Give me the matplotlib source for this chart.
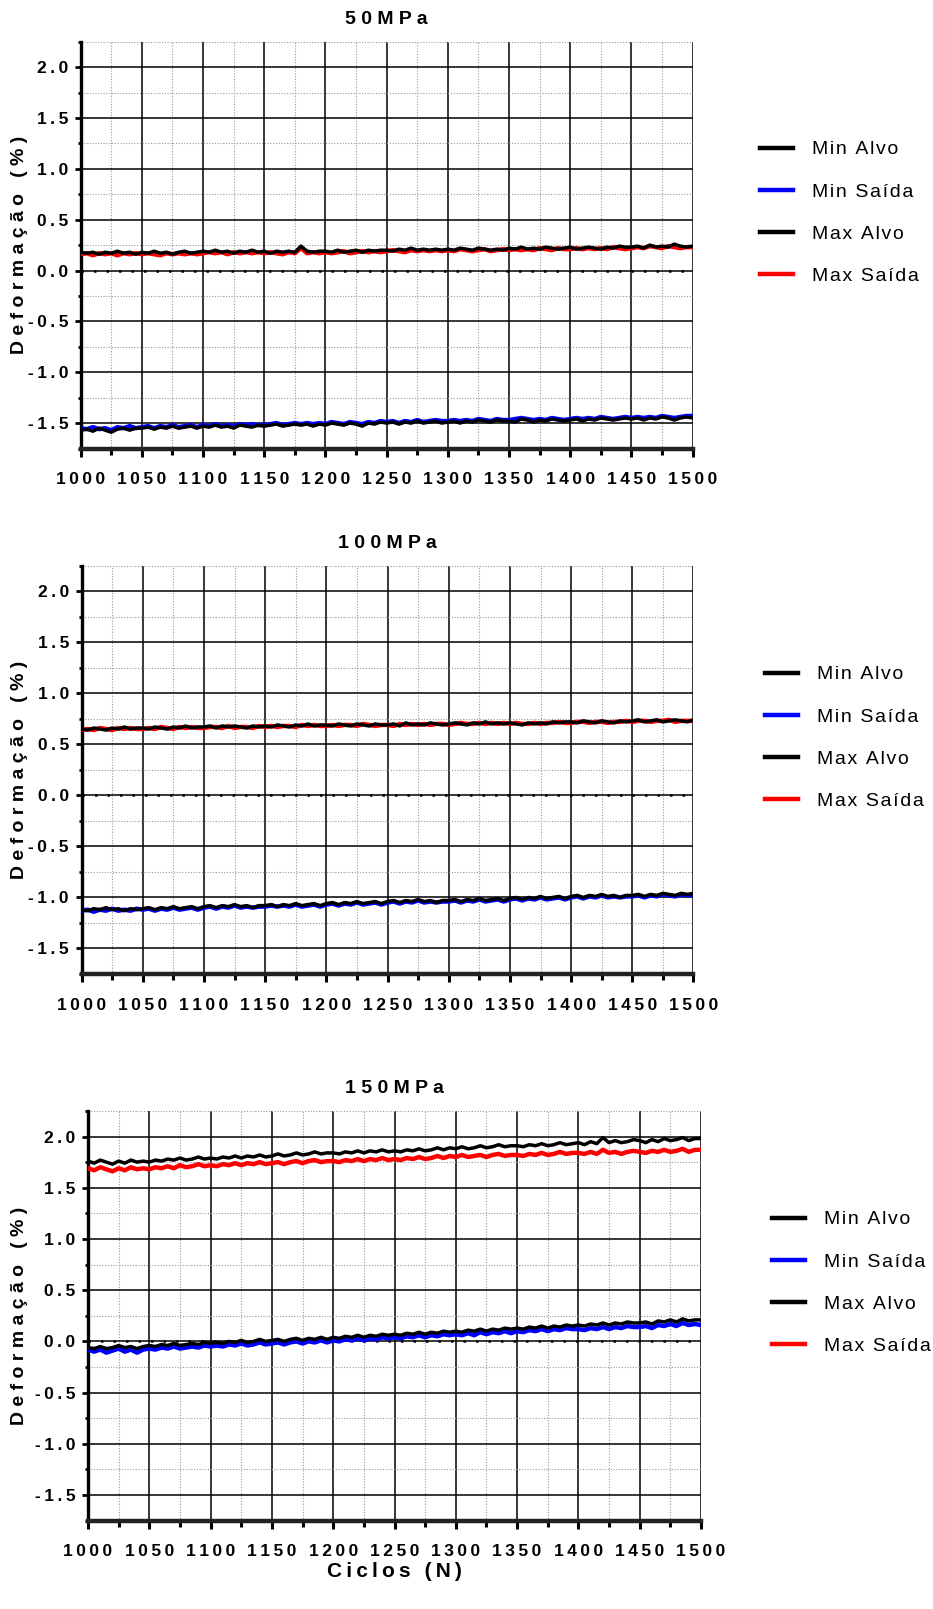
import numpy as np
import matplotlib
matplotlib.use('Agg')
import matplotlib.pyplot as plt
from matplotlib.ticker import MultipleLocator, FuncFormatter

plt.rcParams['font.family'] = ['Liberation Sans', 'DejaVu Sans']

# cycles sampled every 5 from 1000 to 1500
ciclos = np.arange(1000, 1501, 5)

titulos = ['50MPa', '100MPa', '150MPa']
series = ['Min Alvo', 'Min Saída', 'Max Alvo', 'Max Saída']

p1_max_alvo = [
	0.18, 0.17, 0.18, 0.16, 0.18, 0.17, 0.19, 0.17, 0.18, 0.16,
	0.18, 0.17, 0.19, 0.17, 0.18, 0.16, 0.18, 0.19, 0.17, 0.18,
	0.19, 0.18, 0.20, 0.18, 0.19, 0.17, 0.19, 0.18, 0.20, 0.18,
	0.19, 0.17, 0.19, 0.18, 0.19, 0.18, 0.24, 0.19, 0.18, 0.19,
	0.19, 0.18, 0.20, 0.18, 0.19, 0.20, 0.18, 0.20, 0.19, 0.20,
	0.20, 0.19, 0.21, 0.20, 0.22, 0.20, 0.21, 0.20, 0.21, 0.20,
	0.21, 0.20, 0.22, 0.21, 0.20, 0.22, 0.21, 0.20, 0.21, 0.20,
	0.22, 0.21, 0.23, 0.21, 0.22, 0.21, 0.23, 0.22, 0.21, 0.22,
	0.23, 0.21, 0.22, 0.23, 0.22, 0.21, 0.23, 0.22, 0.24, 0.23,
	0.23, 0.24, 0.22, 0.25, 0.23, 0.24, 0.23, 0.26, 0.24, 0.23,
	0.24]
p1_max_saida = [
	0.16, 0.17, 0.15, 0.17, 0.16, 0.17, 0.15, 0.17, 0.16, 0.17,
	0.16, 0.17, 0.16, 0.15, 0.17, 0.16, 0.17, 0.16, 0.17, 0.16,
	0.17, 0.18, 0.17, 0.18, 0.16, 0.18, 0.17, 0.18, 0.17, 0.18,
	0.17, 0.18, 0.17, 0.16, 0.18, 0.17, 0.22, 0.17, 0.18, 0.17,
	0.18, 0.17, 0.18, 0.19, 0.17, 0.18, 0.19, 0.18, 0.19, 0.18,
	0.19, 0.20, 0.19, 0.18, 0.20, 0.19, 0.20, 0.19, 0.20, 0.19,
	0.20, 0.19, 0.21, 0.20, 0.19, 0.20, 0.21, 0.19, 0.20, 0.21,
	0.20, 0.21, 0.20, 0.21, 0.20, 0.22, 0.21, 0.20, 0.22, 0.21,
	0.21, 0.22, 0.21, 0.22, 0.21, 0.22, 0.21, 0.23, 0.22, 0.21,
	0.22, 0.23, 0.22, 0.24, 0.23, 0.22, 0.24, 0.23, 0.22, 0.23,
	0.23]
p1_min_alvo = [
	-1.57, -1.56, -1.58, -1.55, -1.57, -1.59, -1.56, -1.55, -1.57, -1.55,
	-1.55, -1.54, -1.56, -1.54, -1.55, -1.53, -1.55, -1.54, -1.53, -1.55,
	-1.53, -1.54, -1.52, -1.54, -1.53, -1.55, -1.52, -1.53, -1.54, -1.52,
	-1.53, -1.52, -1.51, -1.53, -1.52, -1.51, -1.52, -1.51, -1.53, -1.51,
	-1.52, -1.50, -1.51, -1.52, -1.50, -1.51, -1.53, -1.50, -1.51, -1.49,
	-1.50, -1.49, -1.51, -1.49, -1.50, -1.48, -1.50, -1.49, -1.48, -1.50,
	-1.49, -1.48, -1.50, -1.48, -1.49, -1.47, -1.48, -1.49, -1.47, -1.48,
	-1.48, -1.49, -1.46, -1.47, -1.49, -1.47, -1.48, -1.46, -1.47, -1.48,
	-1.47, -1.46, -1.48, -1.46, -1.47, -1.45, -1.46, -1.47, -1.46, -1.45,
	-1.46, -1.45, -1.47, -1.45, -1.46, -1.44, -1.45, -1.47, -1.45, -1.44,
	-1.45]
p1_min_saida = [
	-1.55, -1.56, -1.54, -1.56, -1.55, -1.57, -1.54, -1.55, -1.53, -1.55,
	-1.54, -1.53, -1.55, -1.53, -1.54, -1.52, -1.54, -1.53, -1.52, -1.54,
	-1.52, -1.53, -1.51, -1.53, -1.52, -1.53, -1.51, -1.52, -1.51, -1.52,
	-1.52, -1.51, -1.50, -1.52, -1.51, -1.50, -1.51, -1.50, -1.51, -1.50,
	-1.51, -1.49, -1.50, -1.51, -1.49, -1.50, -1.51, -1.49, -1.50, -1.48,
	-1.49, -1.48, -1.50, -1.48, -1.49, -1.47, -1.49, -1.48, -1.47, -1.48,
	-1.48, -1.47, -1.48, -1.47, -1.48, -1.46, -1.47, -1.48, -1.46, -1.47,
	-1.47, -1.46, -1.45, -1.46, -1.47, -1.46, -1.47, -1.45, -1.46, -1.47,
	-1.46, -1.45, -1.46, -1.45, -1.46, -1.44, -1.45, -1.46, -1.45, -1.44,
	-1.45, -1.44, -1.45, -1.44, -1.45, -1.43, -1.44, -1.45, -1.44, -1.43,
	-1.43]

p2_max_alvo = [
	0.65, 0.64, 0.66, 0.65, 0.64, 0.66, 0.65, 0.67, 0.65, 0.66,
	0.66, 0.65, 0.67, 0.66, 0.65, 0.67, 0.66, 0.68, 0.66, 0.67,
	0.67, 0.68, 0.66, 0.68, 0.67, 0.68, 0.67, 0.66, 0.68, 0.67,
	0.68, 0.67, 0.69, 0.68, 0.67, 0.69, 0.68, 0.70, 0.68, 0.69,
	0.69, 0.68, 0.70, 0.69, 0.68, 0.70, 0.69, 0.68, 0.70, 0.69,
	0.69, 0.70, 0.68, 0.71, 0.69, 0.70, 0.69, 0.71, 0.70, 0.69,
	0.70, 0.71, 0.70, 0.69, 0.71, 0.70, 0.72, 0.70, 0.71, 0.70,
	0.71, 0.70, 0.69, 0.71, 0.70, 0.71, 0.70, 0.72, 0.71, 0.72,
	0.72, 0.71, 0.73, 0.72, 0.71, 0.73, 0.72, 0.71, 0.73, 0.72,
	0.73, 0.74, 0.72, 0.73, 0.74, 0.72, 0.73, 0.74, 0.73, 0.72,
	0.74]
p2_max_saida = [
	0.64, 0.65, 0.64, 0.66, 0.65, 0.64, 0.66, 0.65, 0.66, 0.65,
	0.65, 0.66, 0.65, 0.67, 0.66, 0.65, 0.67, 0.66, 0.67, 0.66,
	0.66, 0.67, 0.67, 0.66, 0.68, 0.66, 0.67, 0.67, 0.66, 0.68,
	0.67, 0.68, 0.67, 0.68, 0.68, 0.67, 0.69, 0.68, 0.69, 0.68,
	0.68, 0.69, 0.68, 0.69, 0.69, 0.68, 0.70, 0.69, 0.68, 0.69,
	0.69, 0.68, 0.70, 0.69, 0.70, 0.69, 0.70, 0.69, 0.70, 0.70,
	0.69, 0.70, 0.71, 0.70, 0.70, 0.71, 0.70, 0.71, 0.70, 0.71,
	0.70, 0.71, 0.70, 0.70, 0.71, 0.70, 0.71, 0.71, 0.72, 0.71,
	0.71, 0.72, 0.72, 0.71, 0.72, 0.72, 0.71, 0.72, 0.72, 0.73,
	0.72, 0.73, 0.73, 0.72, 0.73, 0.73, 0.74, 0.72, 0.73, 0.73,
	0.73]
p2_min_alvo = [
	-1.12, -1.13, -1.11, -1.12, -1.10, -1.12, -1.11, -1.13, -1.11, -1.12,
	-1.11, -1.10, -1.12, -1.10, -1.11, -1.09, -1.11, -1.10, -1.09, -1.11,
	-1.09, -1.08, -1.10, -1.08, -1.09, -1.07, -1.09, -1.08, -1.10, -1.08,
	-1.08, -1.07, -1.09, -1.07, -1.08, -1.06, -1.08, -1.07, -1.06, -1.08,
	-1.06, -1.05, -1.07, -1.05, -1.06, -1.04, -1.06, -1.05, -1.04, -1.06,
	-1.04, -1.03, -1.05, -1.03, -1.04, -1.02, -1.04, -1.03, -1.05, -1.03,
	-1.03, -1.02, -1.04, -1.02, -1.03, -1.01, -1.03, -1.02, -1.01, -1.03,
	-1.01, -1.00, -1.02, -1.00, -1.01, -0.99, -1.01, -1.00, -0.99, -1.01,
	-0.99, -0.98, -1.00, -0.98, -0.99, -0.97, -0.99, -0.98, -1.00, -0.98,
	-0.98, -0.97, -0.99, -0.97, -0.98, -0.96, -0.97, -0.98, -0.96, -0.97,
	-0.96]
p2_min_saida = [
	-1.13, -1.12, -1.14, -1.12, -1.13, -1.11, -1.13, -1.12, -1.13, -1.11,
	-1.12, -1.11, -1.13, -1.11, -1.12, -1.10, -1.12, -1.11, -1.10, -1.12,
	-1.10, -1.09, -1.11, -1.09, -1.10, -1.08, -1.10, -1.09, -1.10, -1.09,
	-1.09, -1.08, -1.09, -1.08, -1.09, -1.07, -1.09, -1.08, -1.07, -1.09,
	-1.07, -1.06, -1.08, -1.06, -1.07, -1.05, -1.07, -1.06, -1.05, -1.07,
	-1.05, -1.04, -1.06, -1.04, -1.05, -1.03, -1.05, -1.04, -1.05, -1.04,
	-1.04, -1.03, -1.05, -1.03, -1.04, -1.02, -1.04, -1.03, -1.02, -1.04,
	-1.02, -1.01, -1.03, -1.01, -1.02, -1.00, -1.02, -1.01, -1.00, -1.02,
	-1.00, -0.99, -1.01, -0.99, -1.00, -0.98, -1.00, -0.99, -1.00, -0.99,
	-0.99, -0.98, -1.00, -0.98, -0.99, -0.97, -0.98, -0.99, -0.97, -0.98,
	-0.97]

p3_max_alvo = [
	1.76, 1.74, 1.77, 1.75, 1.73, 1.76, 1.74, 1.77, 1.75, 1.76,
	1.75, 1.77, 1.76, 1.78, 1.77, 1.79, 1.77, 1.78, 1.80, 1.78,
	1.79, 1.78, 1.80, 1.79, 1.81, 1.79, 1.81, 1.80, 1.82, 1.80,
	1.81, 1.83, 1.81, 1.82, 1.84, 1.82, 1.83, 1.85, 1.83, 1.84,
	1.84, 1.83, 1.85, 1.84, 1.86, 1.84, 1.86, 1.85, 1.87, 1.85,
	1.86, 1.85, 1.87, 1.86, 1.88, 1.86, 1.87, 1.89, 1.87, 1.89,
	1.88, 1.90, 1.88, 1.89, 1.91, 1.89, 1.90, 1.92, 1.90, 1.91,
	1.91, 1.90, 1.92, 1.91, 1.93, 1.91, 1.92, 1.94, 1.92, 1.93,
	1.94, 1.92, 1.95, 1.93, 1.99, 1.94, 1.96, 1.94, 1.95, 1.97,
	1.96, 1.94, 1.97, 1.95, 1.98, 1.96, 1.97, 1.99, 1.96, 1.98,
	1.98]
p3_max_saida = [
	1.69, 1.67, 1.70, 1.68, 1.66, 1.69, 1.67, 1.70, 1.68, 1.69,
	1.68, 1.70, 1.69, 1.71, 1.69, 1.72, 1.70, 1.71, 1.73, 1.71,
	1.72, 1.71, 1.73, 1.72, 1.74, 1.72, 1.74, 1.73, 1.75, 1.73,
	1.74, 1.75, 1.73, 1.75, 1.76, 1.74, 1.76, 1.77, 1.75, 1.76,
	1.76, 1.75, 1.77, 1.76, 1.78, 1.76, 1.78, 1.77, 1.79, 1.77,
	1.78, 1.77, 1.79, 1.78, 1.80, 1.78, 1.79, 1.81, 1.79, 1.81,
	1.80, 1.82, 1.80, 1.81, 1.82, 1.80, 1.82, 1.83, 1.81, 1.82,
	1.82, 1.81, 1.83, 1.82, 1.84, 1.82, 1.83, 1.85, 1.83, 1.84,
	1.84, 1.83, 1.85, 1.83, 1.87, 1.84, 1.85, 1.83, 1.85, 1.86,
	1.85, 1.84, 1.86, 1.85, 1.87, 1.85, 1.86, 1.88, 1.85, 1.87,
	1.87]
p3_min_alvo = [
	-0.06, -0.07, -0.05, -0.07, -0.06, -0.04, -0.06, -0.05, -0.07, -0.05,
	-0.04, -0.05, -0.03, -0.04, -0.02, -0.04, -0.03, -0.02, -0.03, -0.01,
	-0.02, -0.01, -0.02, 0.00, -0.01, 0.01, -0.01, 0.00, 0.02, 0.00,
	0.01, 0.02, 0.00, 0.02, 0.03, 0.01, 0.03, 0.02, 0.04, 0.02,
	0.04, 0.03, 0.05, 0.04, 0.06, 0.04, 0.06, 0.05, 0.07, 0.06,
	0.07, 0.06, 0.08, 0.07, 0.09, 0.07, 0.09, 0.08, 0.10, 0.09,
	0.10, 0.09, 0.11, 0.10, 0.12, 0.10, 0.12, 0.11, 0.13, 0.12,
	0.13, 0.12, 0.14, 0.13, 0.15, 0.13, 0.15, 0.14, 0.16, 0.15,
	0.16, 0.15, 0.17, 0.16, 0.18, 0.16, 0.18, 0.17, 0.19, 0.18,
	0.18, 0.19, 0.17, 0.20, 0.19, 0.21, 0.19, 0.22, 0.20, 0.21,
	0.21]
p3_min_saida = [
	-0.08, -0.10, -0.08, -0.11, -0.09, -0.07, -0.10, -0.08, -0.11, -0.08,
	-0.07, -0.08, -0.06, -0.07, -0.05, -0.07, -0.06, -0.05, -0.06, -0.04,
	-0.05, -0.04, -0.05, -0.03, -0.04, -0.02, -0.04, -0.03, -0.01, -0.03,
	-0.02, -0.01, -0.03, -0.01, 0.00, -0.02, 0.00, -0.01, 0.01, -0.01,
	0.01, 0.00, 0.02, 0.01, 0.03, 0.01, 0.03, 0.02, 0.04, 0.03,
	0.04, 0.03, 0.05, 0.04, 0.06, 0.04, 0.06, 0.05, 0.07, 0.06,
	0.07, 0.06, 0.08, 0.06, 0.09, 0.07, 0.09, 0.08, 0.10, 0.08,
	0.10, 0.09, 0.11, 0.10, 0.12, 0.10, 0.12, 0.11, 0.13, 0.12,
	0.12, 0.11, 0.13, 0.12, 0.14, 0.12, 0.14, 0.13, 0.15, 0.14,
	0.14, 0.15, 0.13, 0.16, 0.15, 0.17, 0.15, 0.18, 0.16, 0.17,
	0.16]

paineis = [
	(p1_min_alvo, p1_min_saida, p1_max_alvo, p1_max_saida),
	(p2_min_alvo, p2_min_saida, p2_max_alvo, p2_max_saida),
	(p3_min_alvo, p3_min_saida, p3_max_alvo, p3_max_saida),
]

W, H = 933, 1609
# axes boxes in pixels: left, top, right, bottom
caixas = [(80.7, 41.7, 692.6, 448.5), (81.5, 565.7, 693.5, 974.0), (88.0, 1110.9, 701.0, 1520.7)]
# legend anchors in pixels: handle start x, centre y
legendas = [(760, 213), (765, 738), (772, 1283)]


def spaced(s, sep='\u2009'):
	return sep.join(s)


fig = plt.figure(figsize=(W / 100, H / 100), dpi=100)

for k, (mn_alvo, mn_saida, mx_alvo, mx_saida) in enumerate(paineis):
	l, t, r, b = caixas[k]
	ax = fig.add_axes([l / W, 1 - b / H, (r - l) / W, (b - t) / H])

	l_mn_s, = ax.plot(ciclos, mn_saida, color='#0000ff', lw=3.2, zorder=3)
	l_mn_a, = ax.plot(ciclos, mn_alvo, color='black', lw=2.5, zorder=4)
	l_mx_s, = ax.plot(ciclos, mx_saida, color='#ff0000', lw=3.2, zorder=3)
	l_mx_a, = ax.plot(ciclos, mx_alvo, color='black', lw=2.5, zorder=4)
	ax.axhline(0, color='black', lw=1.8, ls=(0, (1, 4)), zorder=2)

	ax.set_xlim(1000, 1500)
	ax.set_ylim(-1.75, 2.25)
	ax.xaxis.set_major_locator(MultipleLocator(50))
	ax.xaxis.set_minor_locator(MultipleLocator(25))
	ax.yaxis.set_major_locator(MultipleLocator(0.5))
	ax.yaxis.set_minor_locator(MultipleLocator(0.25))
	ax.xaxis.set_major_formatter(FuncFormatter(lambda v, p: spaced('%d' % v)))
	ax.yaxis.set_major_formatter(FuncFormatter(lambda v, p: spaced('%.1f' % v)))

	ax.grid(which='major', color='black', lw=1.1, ls='-')
	ax.grid(which='minor', color='#9a9a9a', lw=0.8, ls=(0, (1, 1.5)))
	ax.set_axisbelow(True)

	for s in ('top', 'right'):
		ax.spines[s].set_visible(False)
	ax.spines['left'].set_linewidth(2.4)
	ax.spines['bottom'].set_linewidth(3.2)
	ax.spines['bottom'].set_color('#222222')

	ax.tick_params(axis='x', which='major', length=6, width=2.2, pad=11, labelsize=12.5)
	ax.tick_params(axis='x', which='minor', length=4, width=2.2)
	ax.tick_params(axis='y', which='major', length=4, width=2.0, pad=5, labelsize=12.5)
	ax.tick_params(axis='y', which='minor', length=2.5, width=2.0)
	for lab in ax.get_xticklabels() + ax.get_yticklabels():
		lab.set_fontweight('bold')

	ax.set_title(spaced(titulos[k], ' '), fontsize=14, fontweight='bold', pad=13)
	ax.set_ylabel(spaced('Deformação (%)', ' '), fontsize=14, fontweight='bold')
	ax.yaxis.set_label_coords((28 - l) / (r - l), 0.5)
	if k == 2:
		ax.set_xlabel(spaced('Ciclos (N)', '\u2009'), fontsize=15, fontweight='bold', labelpad=2)

	hx, hy = legendas[k]
	leg = ax.legend([l_mn_a, l_mn_s, l_mx_a, l_mx_s], [spaced(s, '\u200a') for s in series],
		loc='center left', bbox_to_anchor=(hx / W, 1 - hy / H), bbox_transform=fig.transFigure,
		frameon=False, fontsize=14, handlelength=1.69, handletextpad=1.0,
		labelspacing=1.27, borderpad=0, borderaxespad=0)
	for h in leg.get_lines():
		h.set_linewidth(3.2)

fig.savefig('out.png', dpi=100)
